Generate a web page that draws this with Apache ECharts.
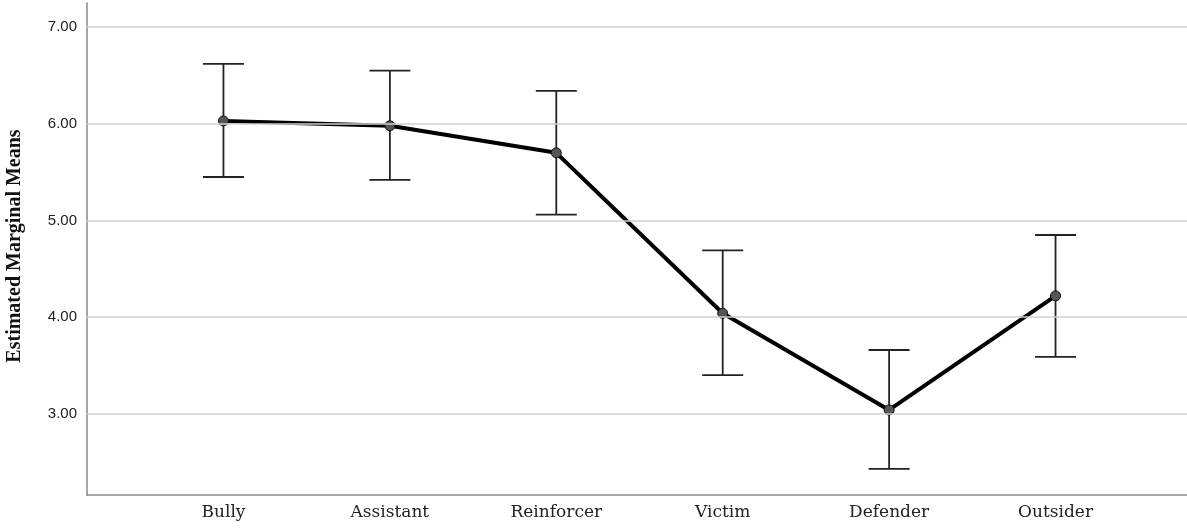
<!DOCTYPE html>
<html>
<head>
<meta charset="utf-8">
<script src="https://cdn.jsdelivr.net/npm/echarts@6/dist/echarts.min.js"></script>
<style>
  html, body { margin: 0; padding: 0; background: #fff; }
  #chart { width: 1187px; height: 531px; }
</style>
</head>
<body>
<div id="chart"></div>
<script>
// estimated marginal means with 95% CI
var categories = ['Bully', 'Assistant', 'Reinforcer', 'Victim', 'Defender', 'Outsider'];
var means = [6.03, 5.98, 5.70, 4.04, 3.04, 4.22];
var upper = [6.62, 6.55, 6.34, 4.69, 3.66, 4.85];
var lower = [5.45, 5.42, 5.06, 3.40, 2.43, 3.59];
var yTicks = [3, 4, 5, 6, 7];

var chart = echarts.init(document.getElementById('chart'));

let lineData = means.map((m, i) => [i, m]);
let barData = means.map((m, i) => [i, lower[i], upper[i]]);

let option = {
    animation: false,
    grid: { left: 87, right: 0, top: 3, bottom: 36 },
    xAxis: {
        type: 'value',
        min: -0.82,
        max: 5.79,
        splitLine: { show: false },
        axisTick: { show: false },
        axisLine: { show: true, onZero: false, lineStyle: { color: '#888', width: 1.5 } },
        axisLabel: {
            customValues: [0, 1, 2, 3, 4, 5],
            formatter: v => categories[Math.round(v)],
            margin: 9,
            fontFamily: 'DejaVu Serif',
            fontSize: 17,
            color: '#222'
        }
    },
    yAxis: {
        type: 'value',
        min: 2.16,
        max: 7.25,
        splitLine: { show: false },
        axisLine: { show: true, onZero: false, lineStyle: { color: '#888', width: 1.5 } },
        axisTick: { show: false },
        axisLabel: {
            customValues: yTicks,
            formatter: v => v.toFixed(2),
            margin: 10,
            padding: [5, 0, 0, 0],
            fontFamily: 'Liberation Sans',
            fontSize: 15,
            color: '#222'
        }
    },
    graphic: [{
        type: 'text',
        x: 15,
        y: 246,
        rotation: Math.PI / 2,
        style: {
            text: 'Estimated Marginal Means',
            fontFamily: 'Liberation Serif',
            fontWeight: 'bold',
            fontSize: 20,
            fill: '#111',
            align: 'center',
            verticalAlign: 'middle'
        }
    }],
    series: [
        {
            // gridlines
            type: 'line',
            data: [],
            silent: true,
            z: 1,
            markLine: {
                symbol: 'none',
                silent: true,
                label: { show: false },
                lineStyle: { color: '#d0d0d0', width: 1.5, type: 'solid' },
                data: yTicks.map(t => ({ yAxis: t }))
            }
        },
        {
            type: 'custom',
            z: 3,
            data: barData,
            renderItem: function (params, api) {
                let x = api.coord([api.value(0), api.value(1)]);
                let lo = x[1];
                let hi = api.coord([api.value(0), api.value(2)])[1];
                let cx = x[0];
                let half = 20.5;
                let style = { stroke: '#222', lineWidth: 1.8 };
                return {
                    type: 'group',
                    children: [
                        { type: 'line', shape: { x1: cx, y1: lo, x2: cx, y2: hi }, style: style },
                        { type: 'line', shape: { x1: cx - half, y1: hi, x2: cx + half, y2: hi }, style: style },
                        { type: 'line', shape: { x1: cx - half, y1: lo, x2: cx + half, y2: lo }, style: style }
                    ]
                };
            }
        },
        {
            type: 'line',
            z: 4,
            data: lineData,
            symbol: 'circle',
            symbolSize: 10,
            lineStyle: { color: '#000', width: 4 },
            itemStyle: { color: '#555', borderColor: '#111', borderWidth: 1 }
        }
    ]
};

chart.setOption(option);
</script>
</body>
</html>
